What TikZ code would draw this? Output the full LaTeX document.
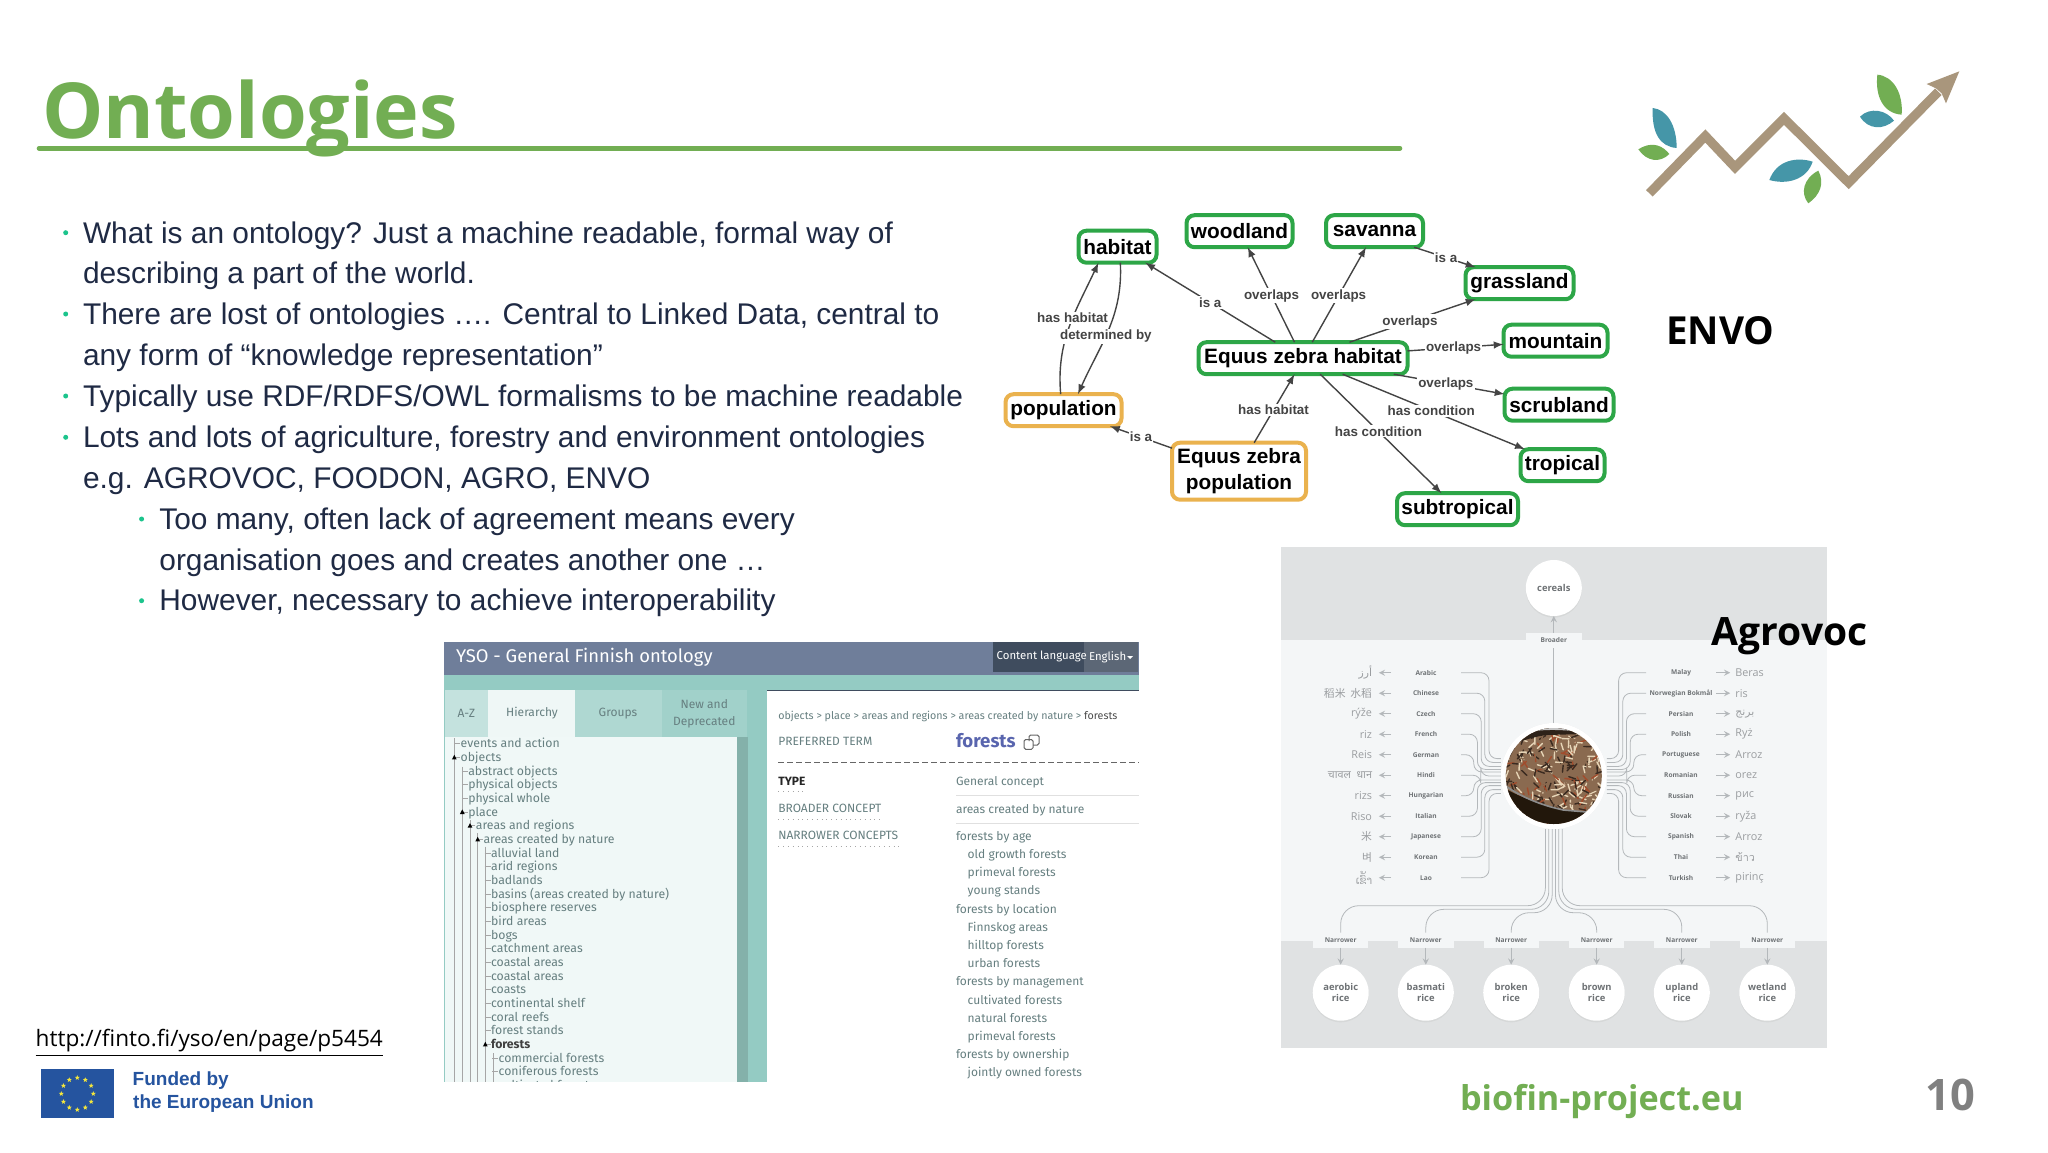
\documentclass[tikz,border=0pt]{standalone}
\usepackage{fontspec}
\usetikzlibrary{shapes.geometric,shadows}
\setmainfont{Open Sans}
\newfontfamily\arialfont{Liberation Sans}
\newfontfamily\firafont{Fira Sans}
\newfontfamily\cjkfont{Noto Sans CJK SC}
\newfontfamily\krfont{Noto Sans CJK KR}
\newfontfamily\arabicfont[Script=Arabic]{DejaVu Sans}
\newfontfamily\devfont[Script=Devanagari]{Noto Sans}
\newfontfamily\laofont[Script=Lao]{Dhyana}
\newfontfamily\thaifont[Script=Thai]{Loma}
\TeXXeTstate=1
\newcommand{\fsz}[1]{\fontsize{#1}{#1}\selectfont}
\definecolor{leafgreen}{HTML}{72AE53}
\definecolor{leafteal}{HTML}{4596A8}
\definecolor{trendbrown}{HTML}{A9967C}
\definecolor{bodyink}{HTML}{1F2A44}
\definecolor{bulletgreen}{HTML}{1CC48C}
\definecolor{mapgreen}{HTML}{2DA647}
\definecolor{maporange}{HTML}{EAB24E}
\definecolor{edgegrey}{HTML}{444444}
\definecolor{panelgrey}{HTML}{E0E2E3}
\definecolor{panellight}{HTML}{F4F6F7}
\definecolor{wiregrey}{HTML}{B4B8BB}
\definecolor{langgrey}{HTML}{6E7275}
\definecolor{wordgrey}{HTML}{9A9DA0}
\definecolor{ysohead}{HTML}{6F7E9A}
\definecolor{ysoteal}{HTML}{94CBC3}
\definecolor{ysodark}{HTML}{3F4C5E}
\definecolor{ysotext}{HTML}{667F80}
\definecolor{eublue}{HTML}{25549F}
\definecolor{eustarc}{HTML}{F3E53C}
\definecolor{ricecream}{HTML}{E6D4B6}
\definecolor{ricetan}{HTML}{8A6A50}
\definecolor{ricedark}{HTML}{3A2A20}
\definecolor{ricered}{HTML}{A24C2C}
\pgfmathdeclarerandomlist{ricelist}{{ricecream}{ricecream}{ricetan}{ricedark}{ricedark}{ricered}}
\tikzset{
  gbox/.style={draw=mapgreen,line width=2pt,rounded corners=4pt,fill=white,yshift=-.6pt,
    minimum height=16pt,font=\arialfont\bfseries\fontsize{10.4}{12.8}\selectfont,align=center},
  obox/.style={gbox,draw=maporange},
  elabel/.style={fill=white,text=edgegrey,inner sep=.6pt,font=\arialfont\bfseries\fsz{6.7}},
  edge/.style={draw=edgegrey,line width=.7pt,-latex},
  wire/.style={draw=wiregrey,line width=.4pt},
  lang/.style={minimum width=35pt,text=langgrey,font=\bfseries\fsz{3.3}},
  word/.style={text=wordgrey,font=\fsz{5.4}},
  bubble/.style={circle,fill=white,minimum size=28pt,align=center,text=langgrey,
    font=\bfseries\fontsize{4.7}{5.4}\selectfont,
    drop shadow={opacity=.1,shadow xshift=0pt,shadow yshift=-.8pt}},
  tabbox/.style={fill=panellight,minimum width=27.7pt,minimum height=7.5pt,text=langgrey,
    font=\bfseries\fsz{3.3}},
  bodyline/.style={anchor=base west,text=bodyink,font=\arialfont\fsz{14.94}},
  bdot/.style={circle,fill=bulletgreen,minimum size=2.5pt},
  ysotree/.style={anchor=base west,text=ysotext,font=\firafont\fsz{6.13}},
  ysotab/.style={text=ysotext,font=\firafont\fsz{6}},
  ysoinfo/.style={anchor=base west,text=ysotext,font=\firafont\fsz{6}},
  eustar/.style={star,star points=5,star point ratio=2.3,fill=eustarc,minimum size=2.6pt},
}
\begin{document}
\begin{tikzpicture}[x=.5pt,y=-.5pt,every node/.style={inner sep=0pt,outer sep=0pt}]
  \useasboundingbox (0,0) rectangle (2048,1152);
  \fill[white] (0,0) rectangle (2048,1152);

  % title
  \node[anchor=base west,text=leafgreen,font=\bfseries\fsz{38.6}] (title) at (42,138.5) {Ontologies};
  \draw[leafgreen,line width=2.3pt,line cap=round] (39,148.3) -- (1400,148.3);

  % logo
  \begin{scope}[shift={(1640,50)},scale=.3333]
    \draw[trendbrown,line width=4.6pt,miter limit=10] (28,430) -- (196,258) -- (285,352) -- (432,205) -- (626,398) -- (895,125);
    \fill[trendbrown] (958,64) -- (860,102) -- (888,115) -- (905,130) -- (918,160) -- cycle;
    \fill[leafteal] (38,174) .. controls (80,178) and (110,225) .. (110,294) .. controls (60,290) and (35,250) .. (38,174);
    \fill[leafgreen] (-5,298) .. controls (40,270) and (70,290) .. (88,312) .. controls (60,340) and (20,335) .. (-5,298);
    \fill[leafteal] (518,335) .. controls (470,320) and (410,330) .. (388,390) .. controls (440,405) and (500,390) .. (518,335);
    \fill[leafgreen] (535,362) .. controls (490,385) and (480,430) .. (505,460) .. controls (540,435) and (555,400) .. (535,362);
    \fill[leafgreen] (712,74) .. controls (760,78) and (790,130) .. (785,194) .. controls (730,190) and (705,140) .. (712,74);
    \fill[leafteal] (660,200) .. controls (690,170) and (740,180) .. (762,212) .. controls (730,240) and (685,240) .. (660,200);
  \end{scope}

  % bullets
  \foreach \nm/\xx/\yy/\txt in {
    t1/83/243/{What is an ontology? Just a machine readable, formal way of},
    t2/83/283.6/{describing a part of the world.},
    t3/83/324.3/{There are lost of ontologies …. Central to Linked Data, central to},
    t4/83/365.5/{any form of “knowledge representation”},
    t5/83/406/{Typically use RDF/RDFS/OWL formalisms to be machine readable},
    t6/83/447.3/{Lots and lots of agriculture, forestry and environment ontologies},
    t7/83/488/{e.g. AGROVOC, FOODON, AGRO, ENVO},
    t8/159.4/529/{Too many, often lack of agreement means every},
    t9/159.4/570/{organisation goes and creates another one …},
    t10/159.4/610.7/{However, necessary to achieve interoperability}}
    \node[bodyline] (\nm) at (\xx,\yy) {\txt};
  \foreach \nm/\xx/\yy in {d1/65.7/232.7,d2/65.7/314,d3/65.7/396,d4/65.7/437.3,d5/141.6/519,d6/141.6/600.7}
    \node[bdot] (\nm) at (\xx,\yy) {};

  % concept map
  \node[gbox,minimum width=39pt] (habitat) at (1117.5,245.5) {habitat};
  \node[gbox,minimum width=53pt] (woodland) at (1239.5,230) {woodland};
  \node[gbox,minimum width=48.5pt] (savanna) at (1374.5,230) {savanna};
  \node[gbox,minimum width=54pt] (grassland) at (1519.5,282) {grassland};
  \node[gbox,minimum width=52pt] (mountain) at (1555.5,339.5) {mountain};
  \node[gbox,minimum width=54.5pt] (scrubland) at (1559,403.5) {scrubland};
  \node[gbox,minimum width=42pt] (tropical) at (1562.5,464) {tropical};
  \node[gbox,minimum width=60.5pt] (subtropical) at (1457.5,508) {subtropical};
  \node[gbox,minimum width=104.5pt] (ehab) at (1303,357) {Equus zebra habitat};
  \node[obox,minimum width=58pt] (population) at (1063.5,409) {population};
  \node[obox,minimum width=67pt,minimum height=28.5pt] (epop) at (1239,470) {Equus zebra\\population};

  \foreach \from/\to/\lab/\p in {
    ehab.150/habitat.-30/{is a}/.5,
    ehab.118/woodland.-63/overlaps/.49,
    ehab.60/savanna.242/overlaps/.49,
    savanna.-22/grassland.160/{is a}/.52,
    ehab.19.5/grassland.200/overlaps/.48,
    ehab.4.3/mountain.184/overlaps/.48,
    ehab.-10/scrubland.169.5/overlaps/.47,
    ehab.-22.5/tropical.157/{has condition}/.486,
    ehab.-43.4/subtropical.135.8/{has condition}/.48,
    epop.62/ehab.242/{has habitat}/.48,
    epop.161/population.-19.5/{is a}/.5}
    \draw[edge] (\from) -- node[elabel,pos=\p] (lb) {\lab} (\to);
  \draw[edge] (population.100) to[out=95,in=-115] node[elabel,pos=.57] (lhh) {has habitat} (habitat.220);
  \draw[edge] (habitat.-80) to[out=-87,in=66] node[elabel,pos=.55] (ldb) {determined by} (population.48);

  \node[anchor=base west,font=\bfseries\fsz{19.3}] (envo) at (1666,344.3) {ENVO};

  % agrovoc panel
  \fill[panelgrey] (1281,547) rectangle (1826.5,1048);
  \fill[panellight] (1281,640) rectangle (1826.5,940.7);

  \node[circle,fill=white,minimum size=53pt,drop shadow={opacity=.08,shadow xshift=0pt,shadow yshift=0pt}] (photo) at (1553.8,776) {};
  \begin{scope}
    \clip (1553.8,776) circle (48);
    \fill[ricetan] (1500,720) rectangle (1610,830);
    \pgfmathsetseed{11}
    \foreach \k in {1,...,340} {
      \pgfmathsetmacro\rx{1553.8+48*rand}
      \pgfmathsetmacro\ry{776+48*rand}
      \pgfmathsetmacro\ra{360*rnd}
      \pgfmathrandomitem{\rc}{ricelist}
      \draw[\rc,line width=.7pt,line cap=round] (\rx,\ry) -- ++(\ra:7);
    }
    \fill[ricedark!80!black] (1500,758) -- (1510,756.7) -- (1516.7,743.3) .. controls (1530,737) and (1546,735) .. (1546.7,735) -- (1610,733.3) -- (1610,720) -- (1500,720) -- cycle;
    \fill[black!22] (1520,720) -- (1535,731) .. controls (1550,729) and (1570,730) .. (1590,733) -- (1600,720) -- cycle;
    \fill[black!82!brown] (1500,786) .. controls (1520,797) and (1540,805) .. (1563.3,810) -- (1610,814) -- (1610,830) -- (1500,830) -- cycle;
    \draw[black!45,line width=.8pt] (1506.7,786.7) .. controls (1522,797) and (1540,805) .. (1563.3,810) -- (1610,814);
  \end{scope}

  \node[bubble] (cereals) at (1553.8,588) {cereals};
  \node[tabbox] (broader) at (1553.8,640) {Broader};
  \draw[wire] (photo.north) -- (broader.south);
  \draw[wire,->,>=stealth] (broader.north) -- (cereals.south);

  % left languages
  \foreach \i/\lang/\wrd/\dx/\dy in {
    0/Arabic/{{\arabicfont\beginR أرز\endR}}/5.9/8.7,
    1/Chinese/{{\cjkfont 稻米\ \ 水稻}}/8/6.8,
    2/Czech/rýže/9.8/4.8,
    3/French/riz/11.7/3.3,
    4/German/Reis/13.5/2,
    5/Hindi/{{\devfont चावल\ \ धान}}/10/.01,
    6/Hungarian/rizs/13.5/-2,
    7/Italian/Riso/11.7/-3.3,
    8/Japanese/{{\cjkfont 米}}/9.8/-4.8,
    9/Korean/{{\krfont 벼}}/8/-6.8,
    10/Lao/{{\laofont ເຂົ້າ}}/5.9/-8.7} {
    \pgfmathsetmacro\ly{672.7+20.5*\i}
    \node[lang] (ll\i) at (1426,\ly) {\lang};
    \node[word,anchor=east] (lw\i) at (1372,\ly) {\wrd};
    \draw[wire,->,>=stealth] (ll\i.west) -- ([xshift=3.4pt]lw\i.east);
    \draw[wire,rounded corners=4pt] (ll\i.east) -| ([xshift=-\dx pt,yshift=\dy pt]photo.west) -- ([yshift=\dy pt]photo.west);
  }

  % right languages
  \foreach \i/\lang/\wrd/\dx/\dy in {
    0/Malay/Beras/5.9/8.7,
    1/Norwegian Bokmål/ris/8/6.8,
    2/Persian/{{\arabicfont\beginR برنج\endR}}/9.8/4.8,
    3/Polish/Ryż/11.7/3.3,
    4/Portuguese/Arroz/13.5/2,
    5/Romanian/orez/10/.01,
    6/Russian/рис/13.5/-2,
    7/Slovak/ryža/11.7/-3.3,
    8/Spanish/Arroz/9.8/-4.8,
    9/Thai/{{\thaifont ข้าว}}/8/-6.8,
    10/Turkish/pirinç/5.9/-8.7} {
    \pgfmathsetmacro\ly{672.7+20.5*\i}
    \node[lang] (rl\i) at (1681,\ly) {\lang};
    \node[word,anchor=west] (rw\i) at (1735.4,\ly) {\wrd};
    \draw[wire,->,>=stealth] (rl\i.east) -- ([xshift=-2.6pt]rw\i.west);
    \draw[wire,rounded corners=4pt] (rl\i.west) -| ([xshift=\dx pt,yshift=\dy pt]photo.east) -- ([yshift=\dy pt]photo.east);
  }

  % narrower concepts
  \foreach \i/\lab/\tabx/\sx/\hy in {
    1/{aerobic\\rice}/1340.7/-4.2/905.7,
    2/{basmati\\rice}/1425.8/-2.5/909.3,
    3/{broken\\rice}/1511.2/-.8/912.7,
    4/{brown\\rice}/1596.7/.8/912.7,
    5/{upland\\rice}/1681.8/2.5/909.3,
    6/{wetland\\rice}/1767.3/4.2/905.7} {
    \node[tabbox] (nt\i) at (\tabx,940) {Narrower};
    \node[bubble] (nb\i) at (\tabx,992.7) {\lab};
    \coordinate (nk\i) at (\tabx,\hy);
    \draw[wire,rounded corners=9pt] ([xshift=\sx pt]photo.south) |- (nk\i) -- (nt\i.north);
    \draw[wire,->,>=stealth] (nt\i.south) -- (nb\i.north);
  }

  \node[anchor=base west,font=\bfseries\fsz{19.5}] (agrovoc) at (1711.8,645) {Agrovoc};

  % yso screenshot
  \fill[ysoteal] (444,675) rectangle (767,1081.7);
  \fill[ysoteal] (767,675) rectangle (1139,690);
  \fill[ysohead] (444,641.7) rectangle (1139,675);
  \fill[ysodark] (992.7,641.7) rectangle (1137.7,671.6);
  \fill[ysodark!85!white] (1084,641.7) rectangle (1137.7,671.6);
  \draw[ysodark,line width=.6pt] (767,690.7) -- (1139,690.7);
  \fill[ysoteal!55!white] (445,690) rectangle (488,736.7);
  \fill[ysoteal!15!white] (488,690) rectangle (575,736.7);
  \fill[ysoteal!75!white] (575,690) rectangle (661.7,736.7);
  \fill[ysoteal!88!white] (661.7,690) rectangle (747,736.7);
  \fill[ysoteal!14!white] (445,736.7) rectangle (737,1081.7);
  \fill[ysoteal!85!black!95!white] (737,736.7) rectangle (748,1081.7);

  \node[anchor=west,text=white,font=\firafont\fsz{9.2}] (ysotitle) at (456,657) {YSO - General Finnish ontology};
  \node[anchor=west,text=white,font=\firafont\fsz{5.7}] (contentlang) at (996.7,656.5) {Content language};
  \node[anchor=west,text=white,font=\firafont\fsz{5.7}] (english) at (1089,657) {English};
  \fill[white] (1127,656) -- (1133,656) -- (1130,659) -- cycle;

  \node[ysotab] (tabaz) at (466.3,713.3) {A-Z};
  \node[ysotab] (tabhier) at (532,713.3) {Hierarchy};
  \node[ysotab] (tabgroups) at (618,713.3) {Groups};
  \node[ysotab] (tabnew) at (704.3,704.3) {New and};
  \node[ysotab] (tabdep) at (704.3,722.7) {Deprecated};

  \foreach \xx/\yy in {454.3/738,462.3/766.7,470/820,477.7/833,485.3/846.7,493/1053}
    \draw[black!35,line width=.4pt] (\xx,\yy) -- (\xx,1081.7);
  \begin{scope}
    \clip (445,736.7) rectangle (737,1081.7);
    \foreach \i/\lv/\txt in {
      0/0/{events and action},1/0/objects,2/1/{abstract objects},3/1/{physical objects},
      4/1/{physical whole},5/1/place,6/2/{areas and regions},7/3/{areas created by nature},
      8/4/{alluvial land},9/4/{arid regions},10/4/badlands,11/4/{basins (areas created by nature)},
      12/4/{biosphere reserves},13/4/{bird areas},14/4/bogs,15/4/{catchment areas},
      16/4/{coastal areas},17/4/{coastal areas},18/4/coasts,19/4/{continental shelf},
      20/4/{coral reefs},21/4/{forest stands},23/5/{commercial forests},24/5/{coniferous forests},
      25/5/{cultivated forests}} {
      \pgfmathsetmacro\tx{460.7+7.6*\lv}
      \pgfmathsetmacro\ty{743.7+13.67*\i}
      \node[ysotree] (tr\i) at (\tx,\ty+4) {\txt};
      \draw[black!35,line width=.4pt] (\tx-6.4,\ty) -- (\tx-.5,\ty);
    }
    \node[ysotree,text=black!75,font=\firafont\bfseries\fsz{6.13}] (tr22) at (491,1048.4) {forests};
    \draw[black!35,line width=.4pt] (484.6,1044.4) -- (490.5,1044.4);
    % expanded marks
    \foreach \xx/\yy in {454.3/757.4,462.3/812,470/825.7,477.7/839.4,485.3/1044.4}
      \fill[black] (\xx,\yy-2.6) -- (\xx+2.4,\yy+2) -- (\xx-2.4,\yy+2) -- cycle;
  \end{scope}

  \node[ysoinfo,font=\firafont\fsz{5.35}] (crumb) at (778.3,719.4) {objects > place > areas and regions > areas created by nature > \textcolor{black!70}{forests}};
  \node[ysoinfo] (prefterm) at (778.3,745.5) {PREFERRED TERM};
  \node[anchor=base west,text=ysohead!80!blue,font=\firafont\bfseries\fsz{9.3}] (forests) at (956,747) {forests};
  \draw[black!60,line width=.5pt,rounded corners=.8pt] (1029,741) -- (1029,735) -- (1039,735) -- (1039,745) -- (1033,745);
  \draw[black!60,line width=.5pt,rounded corners=.8pt] (1024,739.5) rectangle (1033,749.3);
  \draw[black!60,line width=.7pt,dash pattern=on 3pt off 1.5pt] (778.3,762.3) -- (1139,762.3);
  \node[ysoinfo,text=black!85,font=\firafont\bfseries\fsz{6}] (typelab) at (778.3,785) {TYPE};
  \node[ysoinfo] (broaderlab) at (778.3,812.3) {BROADER CONCEPT};
  \node[ysoinfo] (narrowerlab) at (778.3,839.7) {NARROWER CONCEPTS};
  \foreach \xe/\yy in {806/791.7,882.7/819,899.3/846.3}
    \draw[black!35,line width=.4pt,dotted] (778.3,\yy) -- (\xe,\yy);
  \node[ysoinfo] (typeval) at (956,785.7) {General concept};
  \node[ysoinfo] (broaderval) at (956,813) {areas created by nature};
  \foreach \yy in {795.7,823.3}
    \draw[black!12,line width=.6pt] (956,\yy) -- (1139,\yy);
  \foreach \i/\xx/\txt in {
    0/956/{forests by age},1/967.7/{old growth forests},2/967.7/{primeval forests},3/967.7/{young stands},
    4/956/{forests by location},5/967.7/{Finnskog areas},6/967.7/{hilltop forests},7/967.7/{urban forests},
    8/956/{forests by management},9/967.7/{cultivated forests},10/967.7/{natural forests},11/967.7/{primeval forests},
    12/956/{forests by ownership},13/967.7/{jointly owned forests}} {
    \pgfmathsetmacro\ty{840.3+18.2*\i}
    \node[ysoinfo] (nc\i) at (\xx,\ty) {\txt};
  }

  % footer
  \node[anchor=base west,font=\fsz{11.3}] (link) at (35.7,1046.7) {\underline{http://finto.fi/yso/en/page/p5454}};
  \fill[eublue] (41,1069.3) rectangle (113.7,1117.7);
  \begin{scope}[shift={(77.3,1093.7)}]
    \foreach \a in {0,30,...,330}
      \node[eustar] (st\a) at (\a:16) {};
  \end{scope}
  \node[anchor=west,text=eublue,font=\arialfont\bfseries\fsz{9.5}] (funded) at (132.7,1080.3) {Funded by};
  \node[anchor=west,text=eublue,font=\arialfont\bfseries\fsz{9.5}] (union) at (133.2,1103.3) {the European Union};
  \node[anchor=base west,text=leafgreen,font=\bfseries\fsz{17.1}] (site) at (1460,1110) {biofin-project.eu};
  \node[anchor=base west,text=black!50,font=\bfseries\fsz{21.7}] (pageno) at (1925.4,1110) {10};
\end{tikzpicture}
\end{document}
